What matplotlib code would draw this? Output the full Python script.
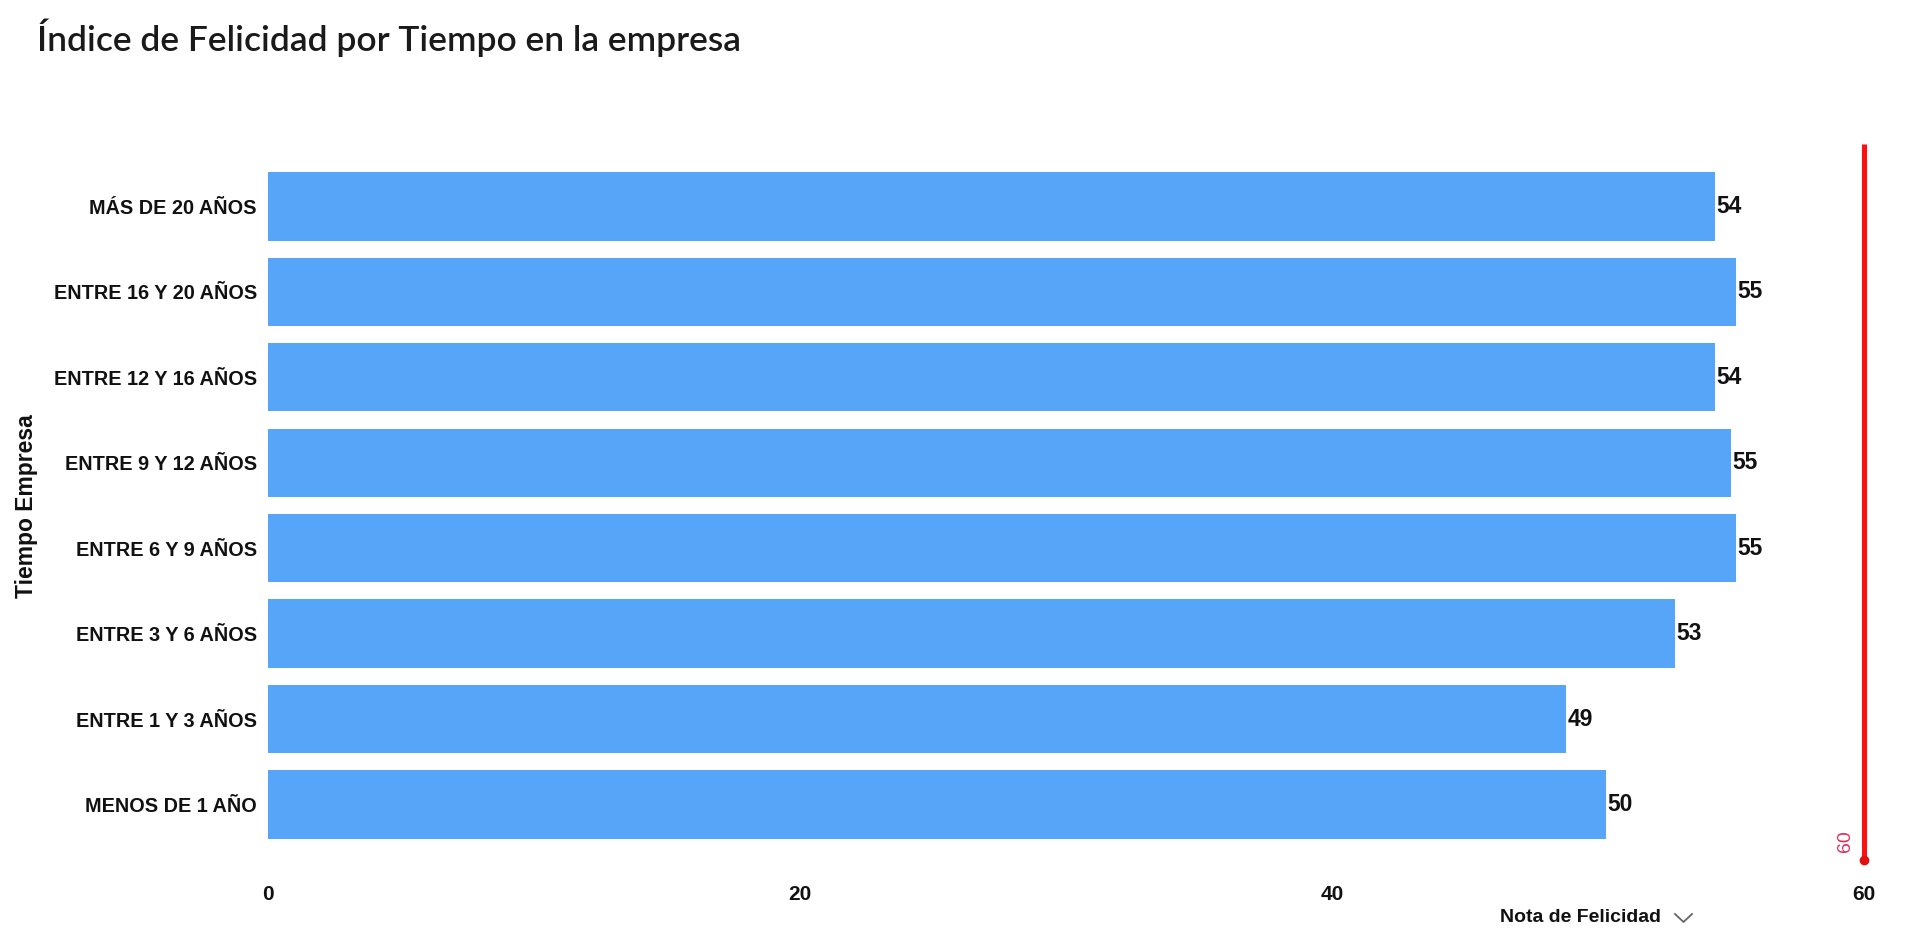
import matplotlib
matplotlib.use("Agg")
import matplotlib.pyplot as plt
from matplotlib.lines import Line2D

# Happiness score by tenure group (bottom to top)
categories = [
    "MENOS DE 1 AÑO",
    "ENTRE 1 Y 3 AÑOS",
    "ENTRE 3 Y 6 AÑOS",
    "ENTRE 6 Y 9 AÑOS",
    "ENTRE 9 Y 12 AÑOS",
    "ENTRE 12 Y 16 AÑOS",
    "ENTRE 16 Y 20 AÑOS",
    "MÁS DE 20 AÑOS",
]
scores = [50.3, 48.8, 52.9, 55.2, 55.0, 54.4, 55.2, 54.4]
x_ticks = [0, 20, 40, 60]
reference_value = 60

title = "Índice de Felicidad por Tiempo en la empresa"
y_label = "Tiempo Empresa"
x_label = "Nota de Felicidad"

bar_color = "#56a5f9"
label_font = "Liberation Sans"
W, H = 1925, 933

fig = plt.figure(figsize=(19.25, 9.33), dpi=100)
fig.patch.set_facecolor("white")
ax = fig.add_axes([0.1392, 0.075, 0.8291, 0.7706])

ypos = list(range(len(categories)))
bars = ax.barh(ypos, scores, height=0.8, color=bar_color, zorder=2)
ax.bar_label(bars, labels=[f"{v:.0f}" for v in scores], padding=1,
             fontsize=16.5, fontweight="bold", family=label_font, color="#111111")

ax.set_xlim(0, 60)
ax.set_ylim(-0.685, 7.73)
ax.set_xticks(x_ticks)
ax.set_xticklabels([str(t) for t in x_ticks])
ax.set_yticks(ypos)
ax.set_yticklabels(categories)
for lbl in ax.get_yticklabels():
    lbl.set_family(label_font)
    lbl.set_fontweight("bold")
    lbl.set_fontsize(14.3)
    lbl.set_color("#111111")
for lbl in ax.get_xticklabels():
    lbl.set_family(label_font)
    lbl.set_fontweight("bold")
    lbl.set_fontsize(15)
    lbl.set_color("#111111")
ax.tick_params(axis="y", length=0, pad=8)
ax.tick_params(axis="x", length=0, pad=16)
for s in ax.spines.values():
    s.set_visible(False)

# Reference line at the target score
ylo, yhi = ax.get_ylim()
ax.plot([reference_value, reference_value], [ylo, yhi], color="#ff1010",
        lw=3.6, solid_capstyle="butt", clip_on=False, zorder=3)
ax.plot([reference_value], [ylo + 0.03], marker="o", ms=6, color="#e01010",
        clip_on=False, zorder=4)
ax.text(reference_value - 0.7, ylo + 0.26, str(reference_value), rotation=90,
        color="#e0305a", fontsize=14, family=label_font,
        ha="center", va="center")

fig.text(0.014, 1 - 506 / H, y_label, rotation=90, ha="center", va="center",
         fontsize=16.5, fontweight="bold", family=label_font, color="#111111")

fig.text(1500 / W, 1 - 918 / H, x_label, ha="left", va="center",
         fontsize=14, fontweight="bold", family=label_font, color="#111111")
# small dropdown chevron next to the axis title
chev_x = [1675 / W, 1683.5 / W, 1692 / W]
chev_y = [1 - 914 / H, 1 - 922 / H, 1 - 914 / H]
fig.add_artist(Line2D(chev_x, chev_y, transform=fig.transFigure,
                      color="#666666", lw=1.3))

fig.text(37 / W, 1 - 38 / H, title, ha="left", va="center",
         fontsize=25.5, fontweight="semibold", family="Lato", color="#1a1a1a")

fig.savefig("out.png", dpi=100)
